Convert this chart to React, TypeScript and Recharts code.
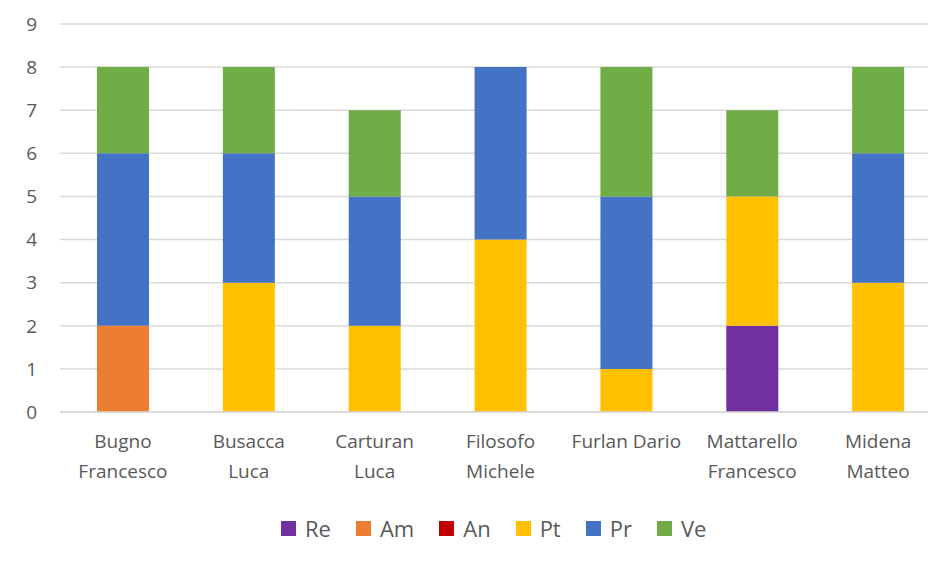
import React from 'react';
import { BarChart, Bar, XAxis, YAxis, CartesianGrid } from 'recharts';

const categories = [
  'Bugno Francesco',
  'Busacca Luca',
  'Carturan Luca',
  'Filosofo Michele',
  'Furlan Dario',
  'Mattarello Francesco',
  'Midena Matteo',
];

// how the category labels wrap under the axis
const tickLabels = [
  ['Bugno', 'Francesco'],
  ['Busacca', 'Luca'],
  ['Carturan', 'Luca'],
  ['Filosofo', 'Michele'],
  ['Furlan Dario'],
  ['Mattarello', 'Francesco'],
  ['Midena', 'Matteo'],
];

const re = [0, 0, 0, 0, 0, 2, 0];
const am = [2, 0, 0, 0, 0, 0, 0];
const an = [0, 0, 0, 0, 0, 0, 0];
const pt = [0, 3, 2, 4, 1, 3, 3];
const pr = [4, 3, 3, 4, 4, 0, 3];
const ve = [2, 2, 2, 0, 3, 2, 2];

const yTicks = [0, 1, 2, 3, 4, 5, 6, 7, 8, 9];

const series = [
  { key: 'Re', values: re, color: '#7030A0' },
  { key: 'Am', values: am, color: '#ED7D31' },
  { key: 'An', values: an, color: '#C00000' },
  { key: 'Pt', values: pt, color: '#FFC000' },
  { key: 'Pr', values: pr, color: '#4472C4' },
  { key: 'Ve', values: ve, color: '#70AD47' },
];

const data = categories.map((name, i) => {
  const row: any = { name, idx: i };
  series.forEach((s) => {
    row[s.key] = s.values[i];
  });
  return row;
});

const textColor = '#595959';
const gridColor = '#d9d9d9';
const font = '"Open Sans", "Noto Sans", sans-serif';

const CategoryTick = (props: any) => {
  const { x, y, index } = props;
  const lines = tickLabels[index] || [];
  return (
    <g>
      {lines.map((line, i) => (
        <text
          key={i}
          x={x}
          y={y + 28 + i * 30}
          textAnchor="middle"
          fill={textColor}
          fontSize={19}
          fontFamily={font}
        >
          {line}
        </text>
      ))}
    </g>
  );
};

export default function App() {
  return (
    <div
      style={{
        position: 'absolute',
        left: 0,
        top: 0,
        width: 928,
        height: 562,
        overflow: 'hidden',
        background: '#fff',
        fontFamily: font,
      }}
    >
      <BarChart
        width={941}
        height={562}
        data={data}
        margin={{ top: 24, right: 0, bottom: 70, left: 0 }}
        barSize={52}
      >
        <CartesianGrid vertical={false} stroke={gridColor} strokeWidth={1.5} />
        <XAxis
          dataKey="name"
          tick={<CategoryTick />}
          tickLine={false}
          axisLine={{ stroke: gridColor, strokeWidth: 1.5 }}
          height={80}
          interval={0}
        />
        <YAxis
          domain={[0, 9]}
          ticks={yTicks}
          width={60}
          tickLine={false}
          axisLine={false}
          tickMargin={17}
          tick={{ fill: textColor, fontSize: 19, fontFamily: font }}
        />
        {series.map((s) => (
          <Bar
            key={s.key}
            dataKey={s.key}
            stackId="a"
            fill={s.color}
            isAnimationActive={false}
          />
        ))}
      </BarChart>
      <div
        style={{
          position: 'absolute',
          top: 513,
          left: 281,
          display: 'flex',
          alignItems: 'center',
          fontSize: 22,
          color: textColor,
          lineHeight: '30px',
        }}
      >
        {series.map((s) => (
          <div
            key={s.key}
            style={{ display: 'flex', alignItems: 'center', marginRight: 25 }}
          >
            <span
              style={{
                width: 15,
                height: 15,
                background: s.color,
                display: 'inline-block',
                marginRight: 9,
              }}
            />
            <span>{s.key}</span>
          </div>
        ))}
      </div>
    </div>
  );
}
